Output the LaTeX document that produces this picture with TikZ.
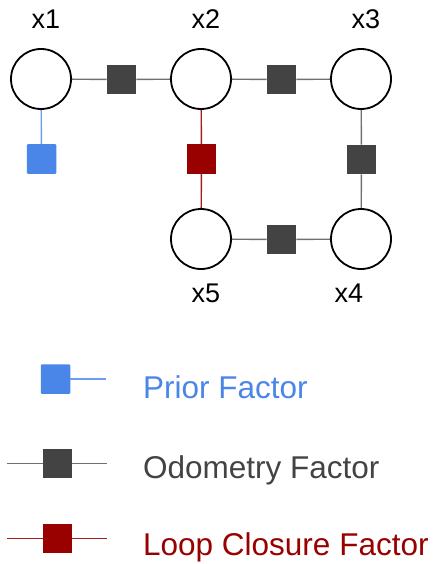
\documentclass[tikz,border=0pt]{standalone}
\usepackage{fontspec}
\setmainfont{Liberation Sans}
\begin{document}
\definecolor{priorblue}{HTML}{4A86E8}
\definecolor{priorline}{HTML}{6D9EEB}
\definecolor{odogray}{HTML}{434343}
\definecolor{odoline}{HTML}{707070}
\definecolor{loopred}{HTML}{990000}
\definecolor{loopline}{HTML}{A61C1C}
\begin{tikzpicture}[x=1pt,y=-1pt,
  var/.style={circle,draw=black,line width=1.8pt,fill=white,minimum size=60pt,inner sep=0pt},
  varlabel/.style={anchor=base,font=\fontsize{27}{30}\selectfont,inner sep=0pt},
  factor/.style={rectangle,minimum size=29.5pt,inner sep=0pt},
  priorf/.style={factor,fill=priorblue,rounded corners=1pt},
  odof/.style={factor,fill=odogray},
  loopf/.style={factor,fill=loopred},
  priorln/.style={draw=priorline,line width=1.4pt},
  odoln/.style={draw=odoline,line width=1.4pt},
  loopln/.style={draw=loopline,line width=1.4pt},
  legendtext/.style={anchor=base west,font=\fontsize{31.5}{34}\selectfont,inner sep=0pt}]
\useasboundingbox (0,0) rectangle (436,564);
% variable nodes
\node[var] (x1) at (41,79) {};
\node[var] (x2) at (201,79) {};
\node[var] (x3) at (361,79) {};
\node[var] (x4) at (361,239) {};
\node[var] (x5) at (201,239) {};
% variable labels
\node[varlabel] (lx1) at (46,29) {x1};
\node[varlabel] (lx2) at (206,29) {x2};
\node[varlabel] (lx3) at (366,29) {x3};
\node[varlabel] (lx5) at (206,302) {x5};
\node[varlabel] (lx4) at (349,302) {x4};
% factor nodes
\node[odof] (f12) at (121.5,79.5) {};
\node[odof] (f23) at (281.5,79.5) {};
\node[odof] (f34) at (361.5,159.5) {};
\node[odof] (f54) at (281.5,239.5) {};
\node[priorf] (p1) at (41.5,159) {};
\node[loopf] (l25) at (201.5,159) {};
% edges
\draw[odoln] (x1) -- (f12) -- (x2);
\draw[odoln] (x2) -- (f23) -- (x3);
\draw[odoln] (x3) -- (f34) -- (x4);
\draw[odoln] (x5) -- (f54) -- (x4);
\draw[priorln] (x1) -- (p1);
\draw[loopln] (x2) -- (l25) -- (x5);
% legend
\node[priorf] (lp) at (55.5,379) {};
\coordinate (lpe) at (106,379);
\draw[priorln] (lp) -- (lpe);
\node[legendtext,text=priorblue] (tp) at (143,398) {Prior Factor};
\node[odof] (lo) at (57.5,463.5) {};
\coordinate (low) at (7,463.5);
\coordinate (loe) at (107,463.5);
\draw[odoln] (low) -- (lo) -- (loe);
\node[legendtext,text=odogray] (to) at (143,478) {Odometry Factor};
\node[loopf] (ll) at (57.5,538.5) {};
\coordinate (llw) at (7,538.5);
\coordinate (lle) at (107,538.5);
\draw[loopln] (llw) -- (ll) -- (lle);
\node[legendtext,text=loopred] (tl) at (143,555) {Loop Closure Factor};
\end{tikzpicture}
\end{document}
